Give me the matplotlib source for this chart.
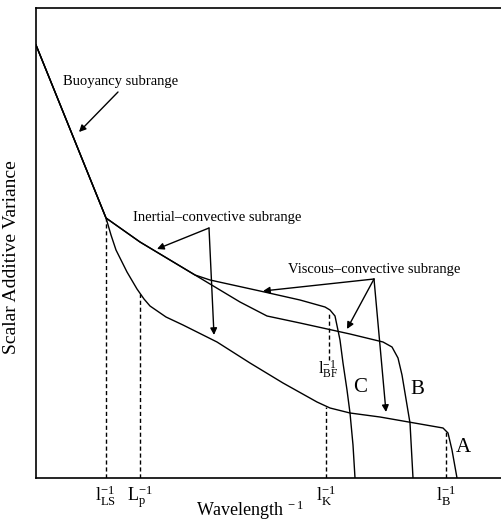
import matplotlib
matplotlib.use("Agg")
import matplotlib.pyplot as plt

plt.rcParams['font.family'] = ['Liberation Serif', 'DejaVu Serif']
plt.rcParams['mathtext.fontset'] = 'stix'

# ---- data (arbitrary units) ----
curve_c_x = [0, 70, 104, 139, 159, 174, 224, 264, 289, 294, 299, 304, 307, 311, 314, 317, 319]
curve_c_y = [433, 260, 236, 215, 203, 198, 187, 178, 171, 168, 162, 138, 115, 88, 65, 33, 0]

curve_b_x = [0, 70, 104, 139, 159, 174, 204, 231, 264, 314, 347, 356, 362, 366, 369, 374, 377]
curve_b_y = [433, 260, 236, 215, 203, 194, 176, 162, 155, 144, 136, 131, 120, 103, 85, 55, 0]

curve_a_x = [0, 70, 75, 80, 86, 91, 101, 108, 114, 130, 147, 181, 214, 247, 281, 294, 314, 344, 407, 412, 416, 421]
curve_a_y = [433, 260, 243, 228, 216, 206, 189, 179, 172, 161, 153, 136, 115, 95, 76, 70, 65, 61, 50, 45, 28, 0]

# dashed markers: x position, top of dashed line, bottom
dash_x = [70, 104, 293, 290, 410]
dash_top = [260, 184, 166, 71, 46]
dash_bot = [0, 0, 118, 0, 0]

tick_pos = [70, 104, 290, 410]
tick_labels = [r'$\mathregular{l_{LS}^{-1}}$', r'$\mathregular{L_{p}^{-1}}$',
               r'$\mathregular{l_{K}^{-1}}$', r'$\mathregular{l_{B}^{-1}}$']

fig = plt.figure(figsize=(5.02, 5.22), dpi=100)
ax = fig.add_axes([36/502, 44/522, 466/502, 470/522])

for xs, ys in [(curve_c_x, curve_c_y), (curve_b_x, curve_b_y), (curve_a_x, curve_a_y)]:
    ax.plot(xs, ys, color='black', lw=1.0)

for x, t, b in zip(dash_x, dash_top, dash_bot):
    ax.plot([x, x], [b, t], color='black', lw=1.0, ls=(0, (3, 2)))

ax.set_xlim(0, 466)
ax.set_ylim(0, 470)
ax.set_xticks(tick_pos)
ax.set_xticklabels(tick_labels, fontsize=13)
ax.set_yticks([])
ax.tick_params(axis='x', length=0, pad=4)
for s in ['left', 'bottom', 'top']:
    ax.spines[s].set_linewidth(1.2)
ax.spines['right'].set_visible(False)

ax.text(0.46, -0.068, r'Wavelength$\mathregular{^{\ -1}}$', transform=ax.transAxes,
        ha='center', va='center', fontsize=13)
ax.text(-0.052, 0.47, 'Scalar Additive Variance', transform=ax.transAxes,
        ha='center', va='center', rotation=90, fontsize=14)

arrow = dict(arrowstyle='-|>', color='black', lw=1.0, mutation_scale=10, shrinkA=0, shrinkB=0)

ax.text(85, 396, 'Buoyancy subrange', ha='center', va='center', fontsize=10.5)
ax.annotate('', xy=(43, 346), xytext=(82, 386), arrowprops=arrow)

ax.text(181, 260, 'Inertial\u2013convective subrange', ha='center', va='center', fontsize=10.5)
ax.annotate('', xy=(121, 229), xytext=(173, 250), arrowprops=arrow)
ax.annotate('', xy=(178, 143), xytext=(173, 250), arrowprops=arrow)

ax.text(338, 208, 'Viscous\u2013convective subrange', ha='center', va='center', fontsize=10.5)
ax.annotate('', xy=(227, 187), xytext=(338, 199), arrowprops=arrow)
ax.annotate('', xy=(311, 149), xytext=(338, 199), arrowprops=arrow)
ax.annotate('', xy=(350, 66), xytext=(338, 199), arrowprops=arrow)

ax.text(292, 108, r'$\mathregular{l_{BF}^{-1}}$', ha='center', va='center', fontsize=12)
ax.text(324, 90, 'C', ha='center', va='center', fontsize=15)
ax.text(381, 88, 'B', ha='center', va='center', fontsize=15)
ax.text(427, 30, 'A', ha='center', va='center', fontsize=15)

fig.savefig('out.png', dpi=100)
